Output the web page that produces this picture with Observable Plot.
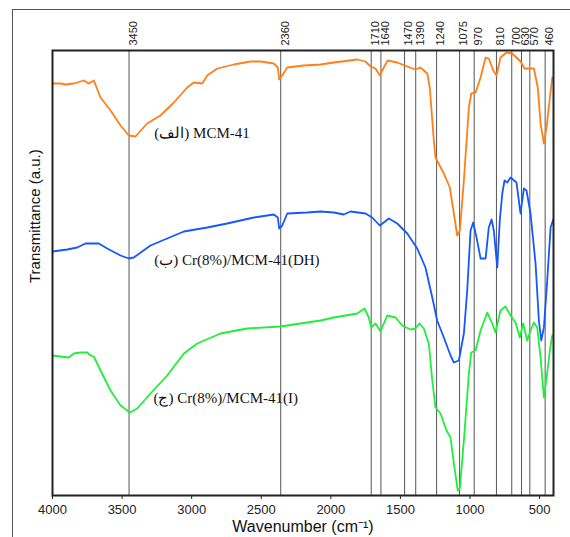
<!DOCTYPE html>
<html>
<head>
<meta charset="utf-8">
<script src="https://cdn.jsdelivr.net/npm/d3@7"></script>
<script src="https://cdn.jsdelivr.net/npm/@observablehq/plot@0.6"></script>
<style>
  html, body { margin: 0; padding: 0; background: #fff; }
  #wrap { position: relative; width: 570px; height: 537px; overflow: hidden; }
  #outer { position: absolute; left: 12px; top: 9px; width: 600px; height: 600px;
           border-left: 1.5px solid #555; border-top: 1.5px solid #555; pointer-events: none; }
  svg { font-family: "Liberation Sans", Arial, sans-serif; }
</style>
</head>
<body>
<div id="wrap"><div id="outer"></div></div>
<script>
// ---- Data ----
// Sample (الف) MCM-41 — wavenumber (cm-1) and transmittance (a.u.)
const mcmWn = [4000,3942,3907,3847,3775,3739,3703,3655,3583,3511,3452,3404,3320,3224,3128,3032,2985,2924,2888,2816,2697,2577,2505,2410,2381,2371,2349,2313,2194,2074,1979,1810,1751,1715,1679,1648,1619,1591,1523,1451,1392,1356,1307,1289,1260,1248,1188,1145,1116,1092,1073,1044,1008,991,960,924,888,865,833,809,781,738,697,637,608,541,513,493,469,450,434,409];
const mcmT  = [412,412,411,412,415,412,415,398,385,370,360,359,372,380,393,408,413,412,420,427,431,434,434,432,428,416,420,428,430,431,433,436,434,429,427,420,428,435,433,429,426,428,422,408,355,338,322,308,282,260,265,315,388,402,403,418,438,437,425,420,438,443,442,434,427,427,408,372,352,368,388,418];

// Sample (ب) Cr(8%)/MCM-41(DH)
const dhWn = [4000,3894,3822,3763,3667,3607,3511,3452,3416,3296,3176,3056,2888,2745,2553,2410,2381,2371,2349,2313,2170,2074,1979,1907,1859,1751,1703,1648,1583,1523,1451,1379,1320,1271,1236,1188,1140,1116,1080,1044,1020,996,977,953,924,888,865,845,829,804,786,768,752,732,709,666,637,613,594,565,529,505,488,469,445,421,402];
const dhT  = [244,246,248,252,252,247,240,237,238,250,257,264,268,272,278,281,278,267,270,282,283,284,283,281,284,282,278,270,277,272,262,247,228,198,175,158,140,133,135,162,205,265,273,258,237,237,268,276,265,228,275,302,315,313,318,313,282,307,305,282,232,175,155,168,215,268,276];

// Sample (ج) Cr(8%)/MCM-41(I)
const iWn = [4000,3942,3883,3847,3799,3751,3727,3703,3655,3583,3511,3444,3391,3296,3176,3056,2960,2793,2601,2362,2218,2074,1979,1810,1758,1727,1710,1679,1643,1595,1535,1487,1427,1392,1363,1332,1296,1271,1248,1212,1169,1140,1116,1088,1073,1044,1008,991,960,924,876,840,817,781,745,709,673,642,618,589,565,541,517,493,469,450,426,409];
const iT  = [140,139,138,142,143,143,140,139,125,105,90,83,87,102,120,142,152,162,167,169,172,175,178,182,187,178,168,172,164,180,178,170,166,167,172,167,152,115,88,82,65,58,32,5,7,55,122,143,145,165,183,172,163,185,189,180,173,158,172,155,165,173,168,138,98,117,145,160];

// Marked band positions (cm-1)
const peaks = [3450,2360,1710,1640,1470,1390,1240,1075,970,810,700,630,570,460];
// Bottom axis ticks
const xTicks = [4000,3500,3000,2500,2000,1500,1000,500];
// Curve labels and their anchor (wavenumber, a.u.)
const labelText = ["(الف) MCM-41", "(ب) Cr(8%)/MCM-41(DH)", "(ج) Cr(8%)/MCM-41(I)"];
const labelWn = [3268, 3268, 3275];
const labelT  = [362, 235, 97];
const colors = ["#ff7f1a", "#1458ff", "#1ef03a"];

// ---- Build tables ----
const mk = (wn, t) => wn.map((w, i) => ({wn: w, t: t[i]}));
const series = [mk(mcmWn, mcmT), mk(dhWn, dhT), mk(iWn, iT)];
const labels = labelText.map((s, i) => ({s, wn: labelWn[i], t: labelT[i]}));

const chart = Plot.plot({
  width: 570,
  height: 537,
  marginTop: 50,
  marginLeft: 52,
  marginRight: 17,
  marginBottom: 42,
  style: {background: "transparent", fontFamily: "'Liberation Sans', Arial, sans-serif", color: "#222"},
  x: {domain: [4000, 400]},
  y: {domain: [0, 445]},
  marks: [
    Plot.ruleX(peaks, {x: d => d, stroke: "#555", strokeWidth: 1}),
    ...series.map((s, i) => Plot.line(s, {x: "wn", y: "t", stroke: colors[i], strokeWidth: 1.8, curve: "linear"})),
    Plot.text(labels, {x: "wn", y: "t", text: "s", textAnchor: "start", fontSize: 15,
      fontFamily: "'Liberation Serif', 'Times New Roman', serif", fill: "#111"}),
    Plot.text(peaks, {x: d => d, text: d => String(d), frameAnchor: "top", rotate: -90,
      textAnchor: "start", dy: -5, fontSize: 11, fill: "#222"}),
    Plot.axisX({ticks: xTicks, tickSize: 4, tickPadding: 5, fontSize: 13, label: null, tickFormat: d => String(d)}),
    Plot.axisY({ticks: [], label: null}),
    Plot.text(["Wavenumber (cm⁻¹)"], {frameAnchor: "bottom", dy: 36, fontSize: 16, fill: "#111"}),
    Plot.text(["Transmittance (a.u.)"], {frameAnchor: "left", rotate: -90, dx: -17, dy: 10, fontSize: 15, fill: "#111"}),
    Plot.frame({stroke: "#222", strokeWidth: 2})
  ]
});
document.getElementById("wrap").appendChild(chart);
</script>
</body>
</html>
